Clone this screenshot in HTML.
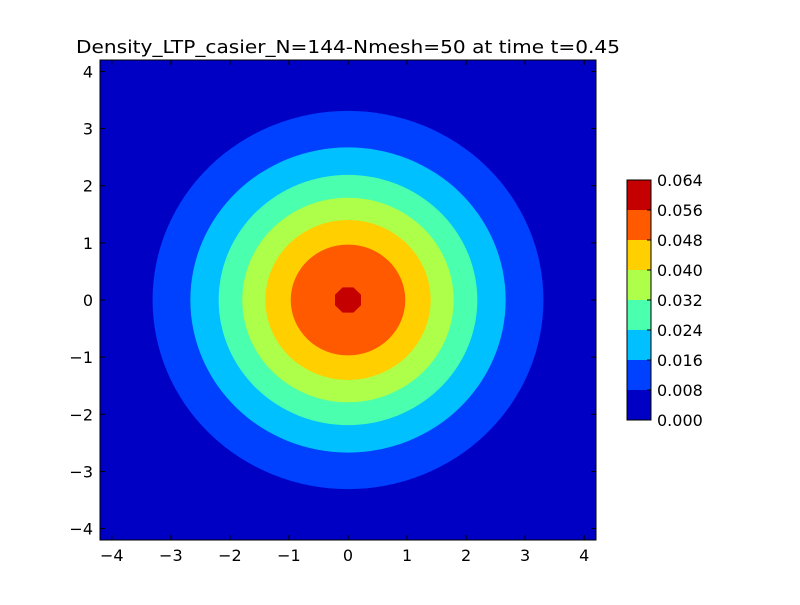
<!DOCTYPE html>
<html><head><meta charset="utf-8"><style>
body{margin:0;background:#fff;}
svg text{font-family:"DejaVu Sans","Liberation Sans",sans-serif;}
</style></head><body>
<svg id="chart" width="800" height="600" xmlns="http://www.w3.org/2000/svg">
<rect width="800" height="600" fill="#fff"/>
<text x="348" y="53" font-size="17.5" text-anchor="middle" textLength="544" lengthAdjust="spacingAndGlyphs">Density_LTP_casier_N=144-Nmesh=50 at time t=0.45</text>
<g id="plot"></g>
<g id="cbar"></g>
</svg>
<script>
const levels=[0.000,0.008,0.016,0.024,0.032,0.040,0.048,0.056,0.064];
const bandColors=["#0000c4","#0040ff","#00c0ff","#4affad","#adff4a","#ffcf00","#ff5a00","#c40000"];
// contour radius (data units) for each threshold level 0.008..0.056
const contourRadii=[3.31,2.67,2.19,1.79,1.40,0.97,0.22];
const xTicks=[-4,-3,-2,-1,0,1,2,3,4];
const yTicks=[-4,-3,-2,-1,0,1,2,3,4];
const xMin=-4.2,xMax=4.2,yMin=-4.2,yMax=4.2;
const L=100,R=596,T=60,B=540;
const sx=v=>L+(v-xMin)/(xMax-xMin)*(R-L);
const sy=v=>B-(v-yMin)/(yMax-yMin)*(B-T);
const NS="http://www.w3.org/2000/svg";
const plot=document.getElementById('plot');
function mk(tag,attrs,parent){const e=document.createElementNS(NS,tag);for(const k in attrs)e.setAttribute(k,attrs[k]);parent.appendChild(e);return e;}
let bg=mk('rect',{x:L,y:T,width:R-L,height:B-T,fill:bandColors[0]},plot);


contourRadii.forEach((r,i)=>{
  let c;
  if(i===contourRadii.length-1){
    const pts=[];for(let k=0;k<8;k++){const a=Math.PI/8+k*Math.PI/4;pts.push(sx(r*Math.cos(a)/Math.cos(Math.PI/8))+','+sy(r*Math.sin(a)/Math.cos(Math.PI/8)));}
    c=mk('polygon',{points:pts.join(' '),fill:bandColors[i+1]},plot);
  } else {
    c=mk('ellipse',{cx:sx(0),cy:sy(0),rx:sx(r)-sx(0),ry:sy(0)-sy(r),fill:bandColors[i+1]},plot);
  }
  
  
});
let fr=mk('rect',{x:L,y:T,width:R-L,height:B-T,fill:'none',stroke:'#000','stroke-width':1},plot);


xTicks.forEach(v=>{
  const x=sx(v);
  mk('line',{x1:x,y1:B,x2:x,y2:B-5,stroke:'#000'},plot);
  mk('line',{x1:x,y1:T,x2:x,y2:T+5,stroke:'#000'},plot);
  const t=mk('text',{x:x,y:B+21,'font-size':16,'text-anchor':'middle'},plot);
  t.textContent=(v<0?'\u2212'+(-v):v);
  
  
});
yTicks.forEach(v=>{
  const y=sy(v);
  mk('line',{x1:L,y1:y,x2:L+5,y2:y,stroke:'#000'},plot);
  mk('line',{x1:R,y1:y,x2:R-5,y2:y,stroke:'#000'},plot);
  const t=mk('text',{x:L-7,y:y+6,'font-size':16,'text-anchor':'end'},plot);
  t.textContent=(v<0?'\u2212'+(-v):v);
  
  
});
const cb=document.getElementById('cbar');
const cL=627,cR=651,cT=180,cB=420;
const cy=v=>cB-(v-levels[0])/(levels[levels.length-1]-levels[0])*(cB-cT);
bandColors.forEach((col,i)=>{
  const r=mk('rect',{x:cL,y:cy(levels[i+1]),width:cR-cL,height:cy(levels[i])-cy(levels[i+1]),fill:col},cb);
  
  
});
mk('rect',{x:cL,y:cT,width:cR-cL,height:cB-cT,fill:'none',stroke:'#000'},cb);
levels.forEach(v=>{
  const y=cy(v);
  mk('line',{x1:cR-4,y1:y,x2:cR,y2:y,stroke:'#000'},cb);
  const t=mk('text',{x:cR+6,y:y+6,'font-size':16},cb);
  t.textContent=v.toFixed(3);
  
  
});
</script>
</body></html>
